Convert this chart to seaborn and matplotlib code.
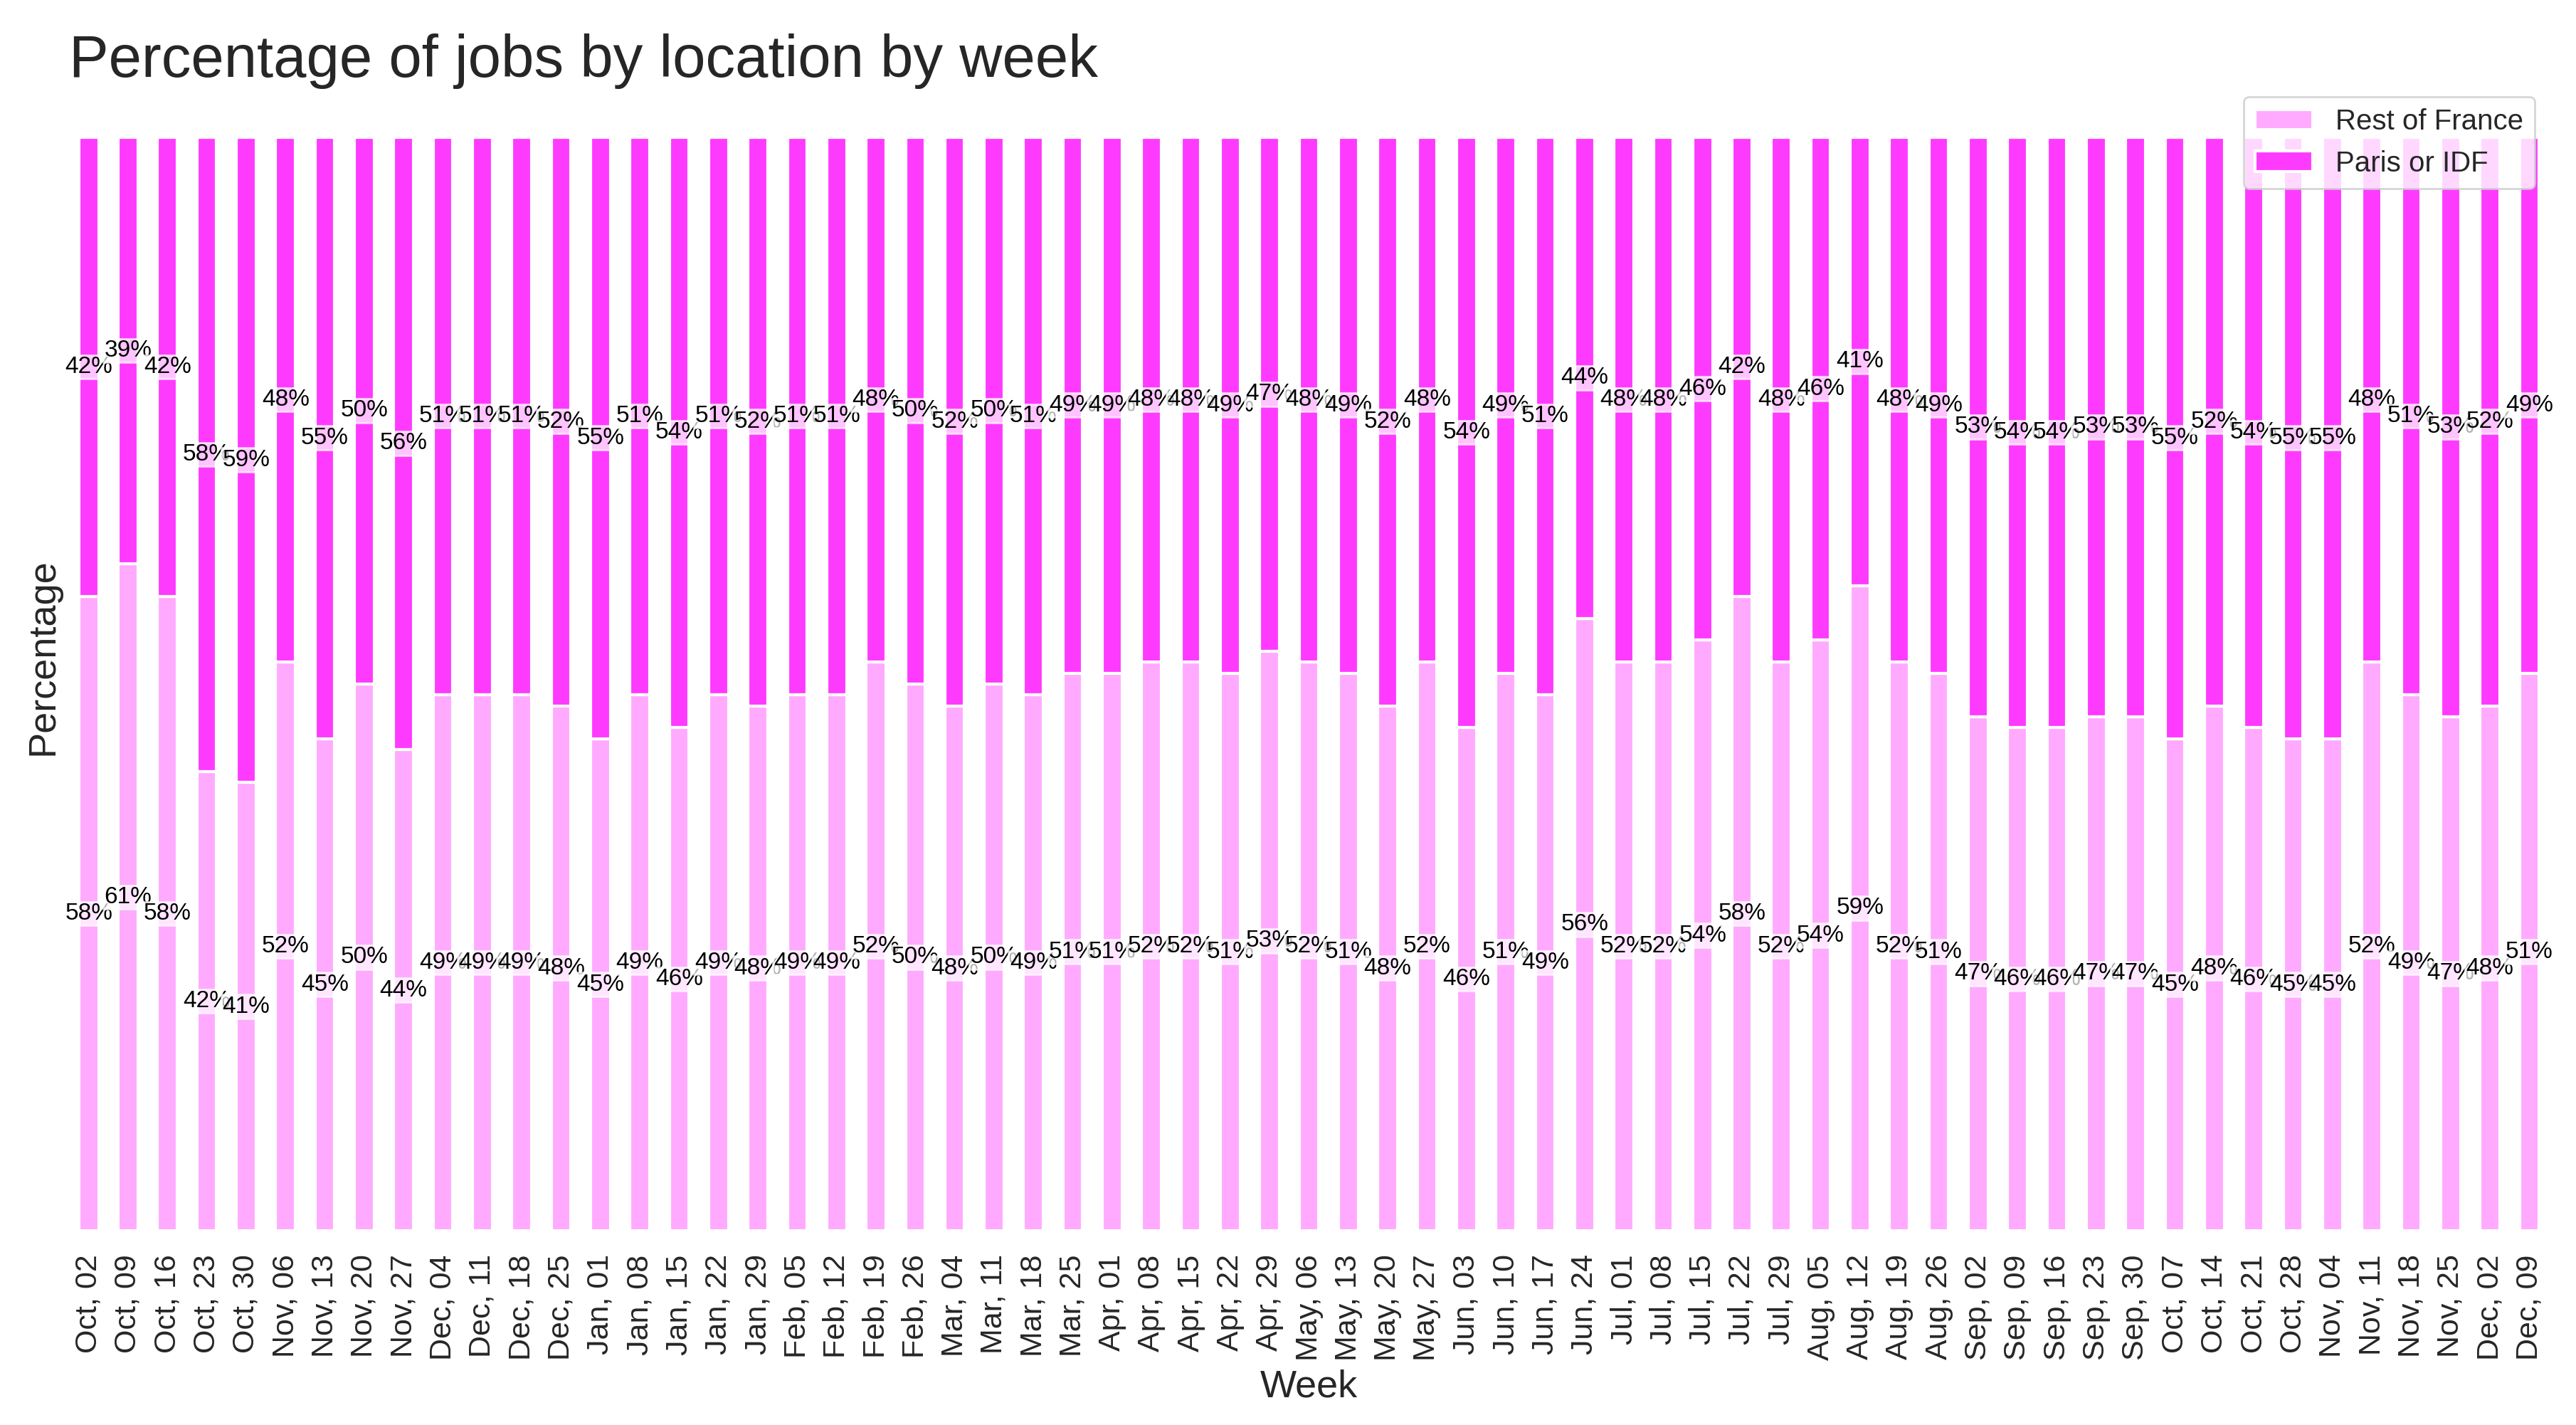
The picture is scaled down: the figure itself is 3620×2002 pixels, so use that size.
import matplotlib
matplotlib.use("Agg")
import matplotlib.pyplot as plt
import pandas as pd
import seaborn as sns

# Wochen (x-Achse)
weeks = [
    "Oct, 02", "Oct, 09", "Oct, 16", "Oct, 23", "Oct, 30",
    "Nov, 06", "Nov, 13", "Nov, 20", "Nov, 27",
    "Dec, 04", "Dec, 11", "Dec, 18", "Dec, 25",
    "Jan, 01", "Jan, 08", "Jan, 15", "Jan, 22", "Jan, 29",
    "Feb, 05", "Feb, 12", "Feb, 19", "Feb, 26",
    "Mar, 04", "Mar, 11", "Mar, 18", "Mar, 25",
    "Apr, 01", "Apr, 08", "Apr, 15", "Apr, 22", "Apr, 29",
    "May, 06", "May, 13", "May, 20", "May, 27",
    "Jun, 03", "Jun, 10", "Jun, 17", "Jun, 24",
    "Jul, 01", "Jul, 08", "Jul, 15", "Jul, 22", "Jul, 29",
    "Aug, 05", "Aug, 12", "Aug, 19", "Aug, 26",
    "Sep, 02", "Sep, 09", "Sep, 16", "Sep, 23", "Sep, 30",
    "Oct, 07", "Oct, 14", "Oct, 21", "Oct, 28",
    "Nov, 04", "Nov, 11", "Nov, 18", "Nov, 25",
    "Dec, 02", "Dec, 09",
]

# Anteil Rest of France (%)
rest_pct = [
    58, 61, 58, 42, 41,
    52, 45, 50, 44,
    49, 49, 49, 48,
    45, 49, 46, 49, 48,
    49, 49, 52, 50,
    48, 50, 49, 51,
    51, 52, 52, 51, 53,
    52, 51, 48, 52,
    46, 51, 49, 56,
    52, 52, 54, 58, 52,
    54, 59, 52, 51,
    47, 46, 46, 47, 47,
    45, 48, 46, 45,
    45, 52, 49, 47,
    48, 51,
]

# Anteil Paris or IDF (%)
paris_pct = [
    42, 39, 42, 58, 59,
    48, 55, 50, 56,
    51, 51, 51, 52,
    55, 51, 54, 51, 52,
    51, 51, 48, 50,
    52, 50, 51, 49,
    49, 48, 48, 49, 47,
    48, 49, 52, 48,
    54, 49, 51, 44,
    48, 48, 46, 42, 48,
    46, 41, 48, 49,
    53, 54, 54, 53, 53,
    55, 52, 54, 55,
    55, 48, 51, 53,
    52, 49,
]

farbe_rest = "#ffaaff"
farbe_paris = "#ff3aff"

df = pd.DataFrame({"week": weeks, "rest": rest_pct, "paris": paris_pct})

sns.set_theme(style="white")
plt.rcParams["font.family"] = ["Liberation Sans", "DejaVu Sans"]

fig, ax = plt.subplots(figsize=(18.1, 10.01), dpi=200)
fig.subplots_adjust(left=0.0268, right=0.9895, bottom=0.1364, top=0.942)

sns.barplot(data=df, x="week", y="rest", color=farbe_rest, saturation=1,
            width=0.5, errorbar=None, edgecolor="white", linewidth=1.5,
            label="Rest of France", ax=ax)
sns.barplot(data=df, x="week", y="paris", bottom=df["rest"].tolist(),
            color=farbe_paris, saturation=1, width=0.5, errorbar=None,
            edgecolor="white", linewidth=1.5, label="Paris or IDF", ax=ax)

# Prozentwerte mittig in die Segmente schreiben
for container in ax.containers:
    werte = [b.get_height() for b in container]
    ax.bar_label(container, labels=[f"{w:.0f}%" for w in werte], label_type="center",
                 fontsize=12, color="black",
                 bbox=dict(facecolor="white", edgecolor="white", alpha=0.7, pad=0.5))

ax.set_title("Percentage of jobs by location by week", loc="left", fontsize=30, pad=3)
ax.set_xlabel("Week", fontsize=19.5)
ax.set_ylabel("Percentage", fontsize=19.5)
ax.set_yticks([])
ax.tick_params(axis="x", labelrotation=90, labelsize=15.5, length=0, pad=12)
sns.despine(left=True, bottom=True)

ax.legend(loc="upper right", fontsize=14.5)

fig.savefig("out.png", dpi=200)
